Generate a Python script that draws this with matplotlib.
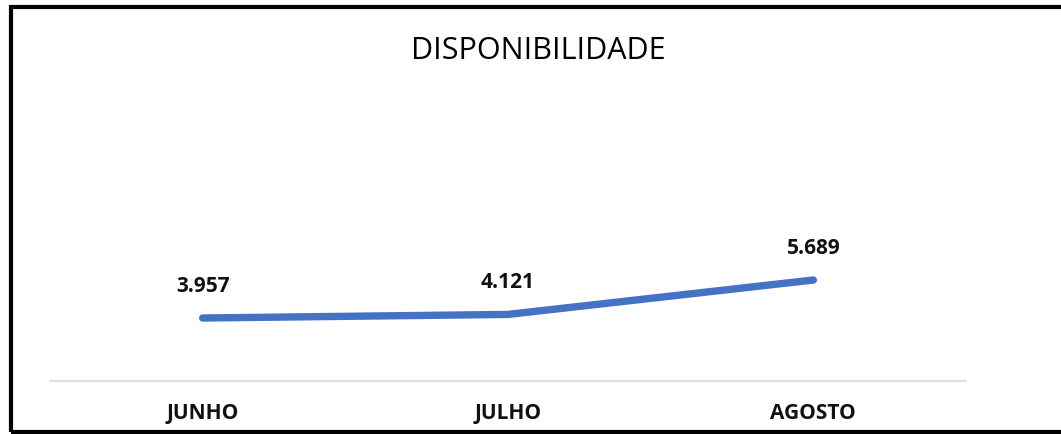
import matplotlib
matplotlib.use("Agg")
import matplotlib.pyplot as plt
from matplotlib.patches import Rectangle

months = ["JUNHO", "JULHO", "AGOSTO"]
values = [3957, 4121, 5689]
labels = ["3.957", "4.121", "5.689"]

W, H = 1061, 434
fig = plt.figure(figsize=(W / 100, H / 100), dpi=100)
plt.rcParams['font.family'] = ['Open Sans', 'DejaVu Sans']

# plot area in pixels: x 50..966, bottom at y=381
left, right, bottom, top = 50, 966, 381, 100
ax = fig.add_axes([left / W, (H - bottom) / H, (right - left) / W, (bottom - top) / H])

x = list(range(len(months)))
ax.plot(x, values, color="#4472C4", lw=5.3, solid_capstyle="round", solid_joinstyle="round")
for xi, v, lab in zip(x, values, labels):
    ax.annotate(lab, (xi, v), xytext=(0, 21), textcoords="offset pixels",
                ha="center", va="bottom", fontsize=15, fontweight="bold", color="#111111")

px_per_unit = 38 / (5689 - 3957)
y0 = 1086
ax.set_ylim(y0, y0 + (bottom - top) / px_per_unit)
ax.set_xlim(-0.5, 2.5)
ax.set_xticks(x)
ax.set_xticklabels(months, fontsize=15, fontweight="bold", color="#111111")
ax.tick_params(axis="x", length=0, pad=15.5)
ax.set_yticks([])
for s in ["top", "right", "left"]:
    ax.spines[s].set_visible(False)
ax.spines["bottom"].set_color("#D9D9D9")
ax.spines["bottom"].set_linewidth(1.2)

fig.text(538 / W, 1 - 51 / H, "DISPONIBILIDADE", ha="center", va="center", fontsize=22, color="#000000")

# chart frame (extends past the right edge)
fig.patches.append(Rectangle((11 / W, 2 / H), 1.1, 1 - 9 / H, transform=fig.transFigure,
                             fill=False, edgecolor="black", lw=3, clip_on=False))

fig.savefig("out.png", dpi=100)
